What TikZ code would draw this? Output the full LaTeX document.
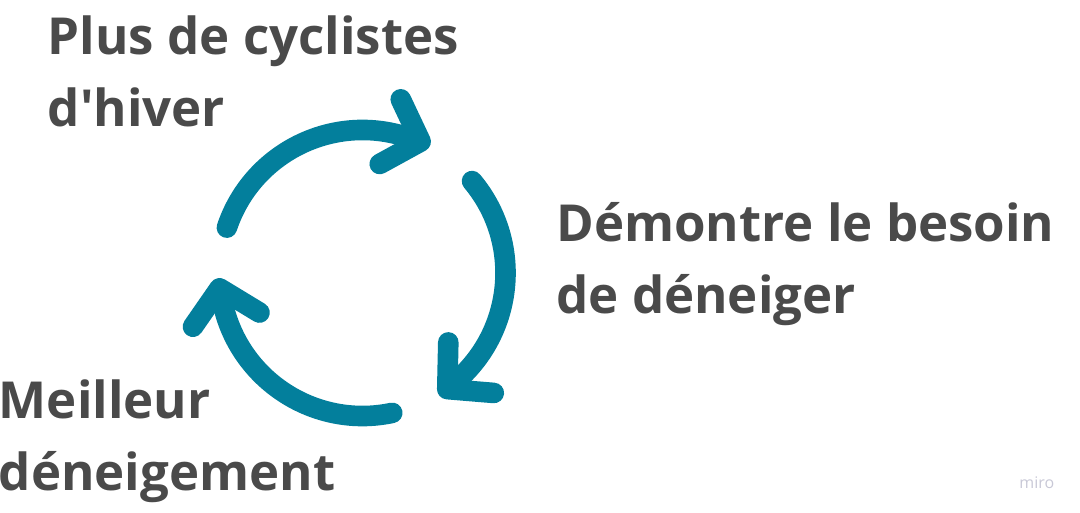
\documentclass[tikz,border=0pt]{standalone}
\usepackage{fontspec}
\setmainfont{Open Sans}[Ligatures=TeXOff]
\usetikzlibrary{arrows.meta}
\definecolor{cycleteal}{HTML}{037F9C}
\definecolor{labelgray}{HTML}{4A4A4A}
\definecolor{mirogray}{HTML}{C8C8D6}
\begin{document}
\begin{tikzpicture}[x=0.5pt,y=0.5pt,line join=round,line cap=round,
  cyclearrow/.style={cycleteal,line width=10.3pt,-{Straight Barb[length=16pt,width=34pt,round]}},
  steplabel/.style={anchor=base west,inner sep=0pt,align=left,text=labelgray,font=\fontsize{25.5}{36}\selectfont\bfseries}]
 \useasboundingbox (0,0) rectangle (1080,513);
 \def\r{143} % rayon du cycle
 \coordinate (c) at (362.5,240);
 % les trois fleches du cycle
 \draw[cyclearrow] (c) ++(161.5:\r) arc[start angle=161.5,end angle=72,radius=\r] -- ++(-18:25);
 \draw[cyclearrow] (c) ++(40:\r) arc[start angle=40,end angle=-48,radius=\r] -- ++(-138:25);
 \draw[cyclearrow] (c) ++(-78:\r) arc[start angle=-78,end angle=-168,radius=\r] -- ++(102:25);
 % les etiquettes
 \node[steplabel] (cyclistes) at (47.5,386) {Plus de cyclistes\\d'hiver};
 \node[steplabel] (besoin) at (556,199) {Démontre le besoin\\de déneiger};
 \node[steplabel] (deneigement) at (-1.5,22) {Meilleur\\déneigement};
 \node[anchor=base west,inner sep=0pt,text=mirogray,font=\fontsize{8}{9}\selectfont] (miro) at (1019,24) {miro};
\end{tikzpicture}
\end{document}
